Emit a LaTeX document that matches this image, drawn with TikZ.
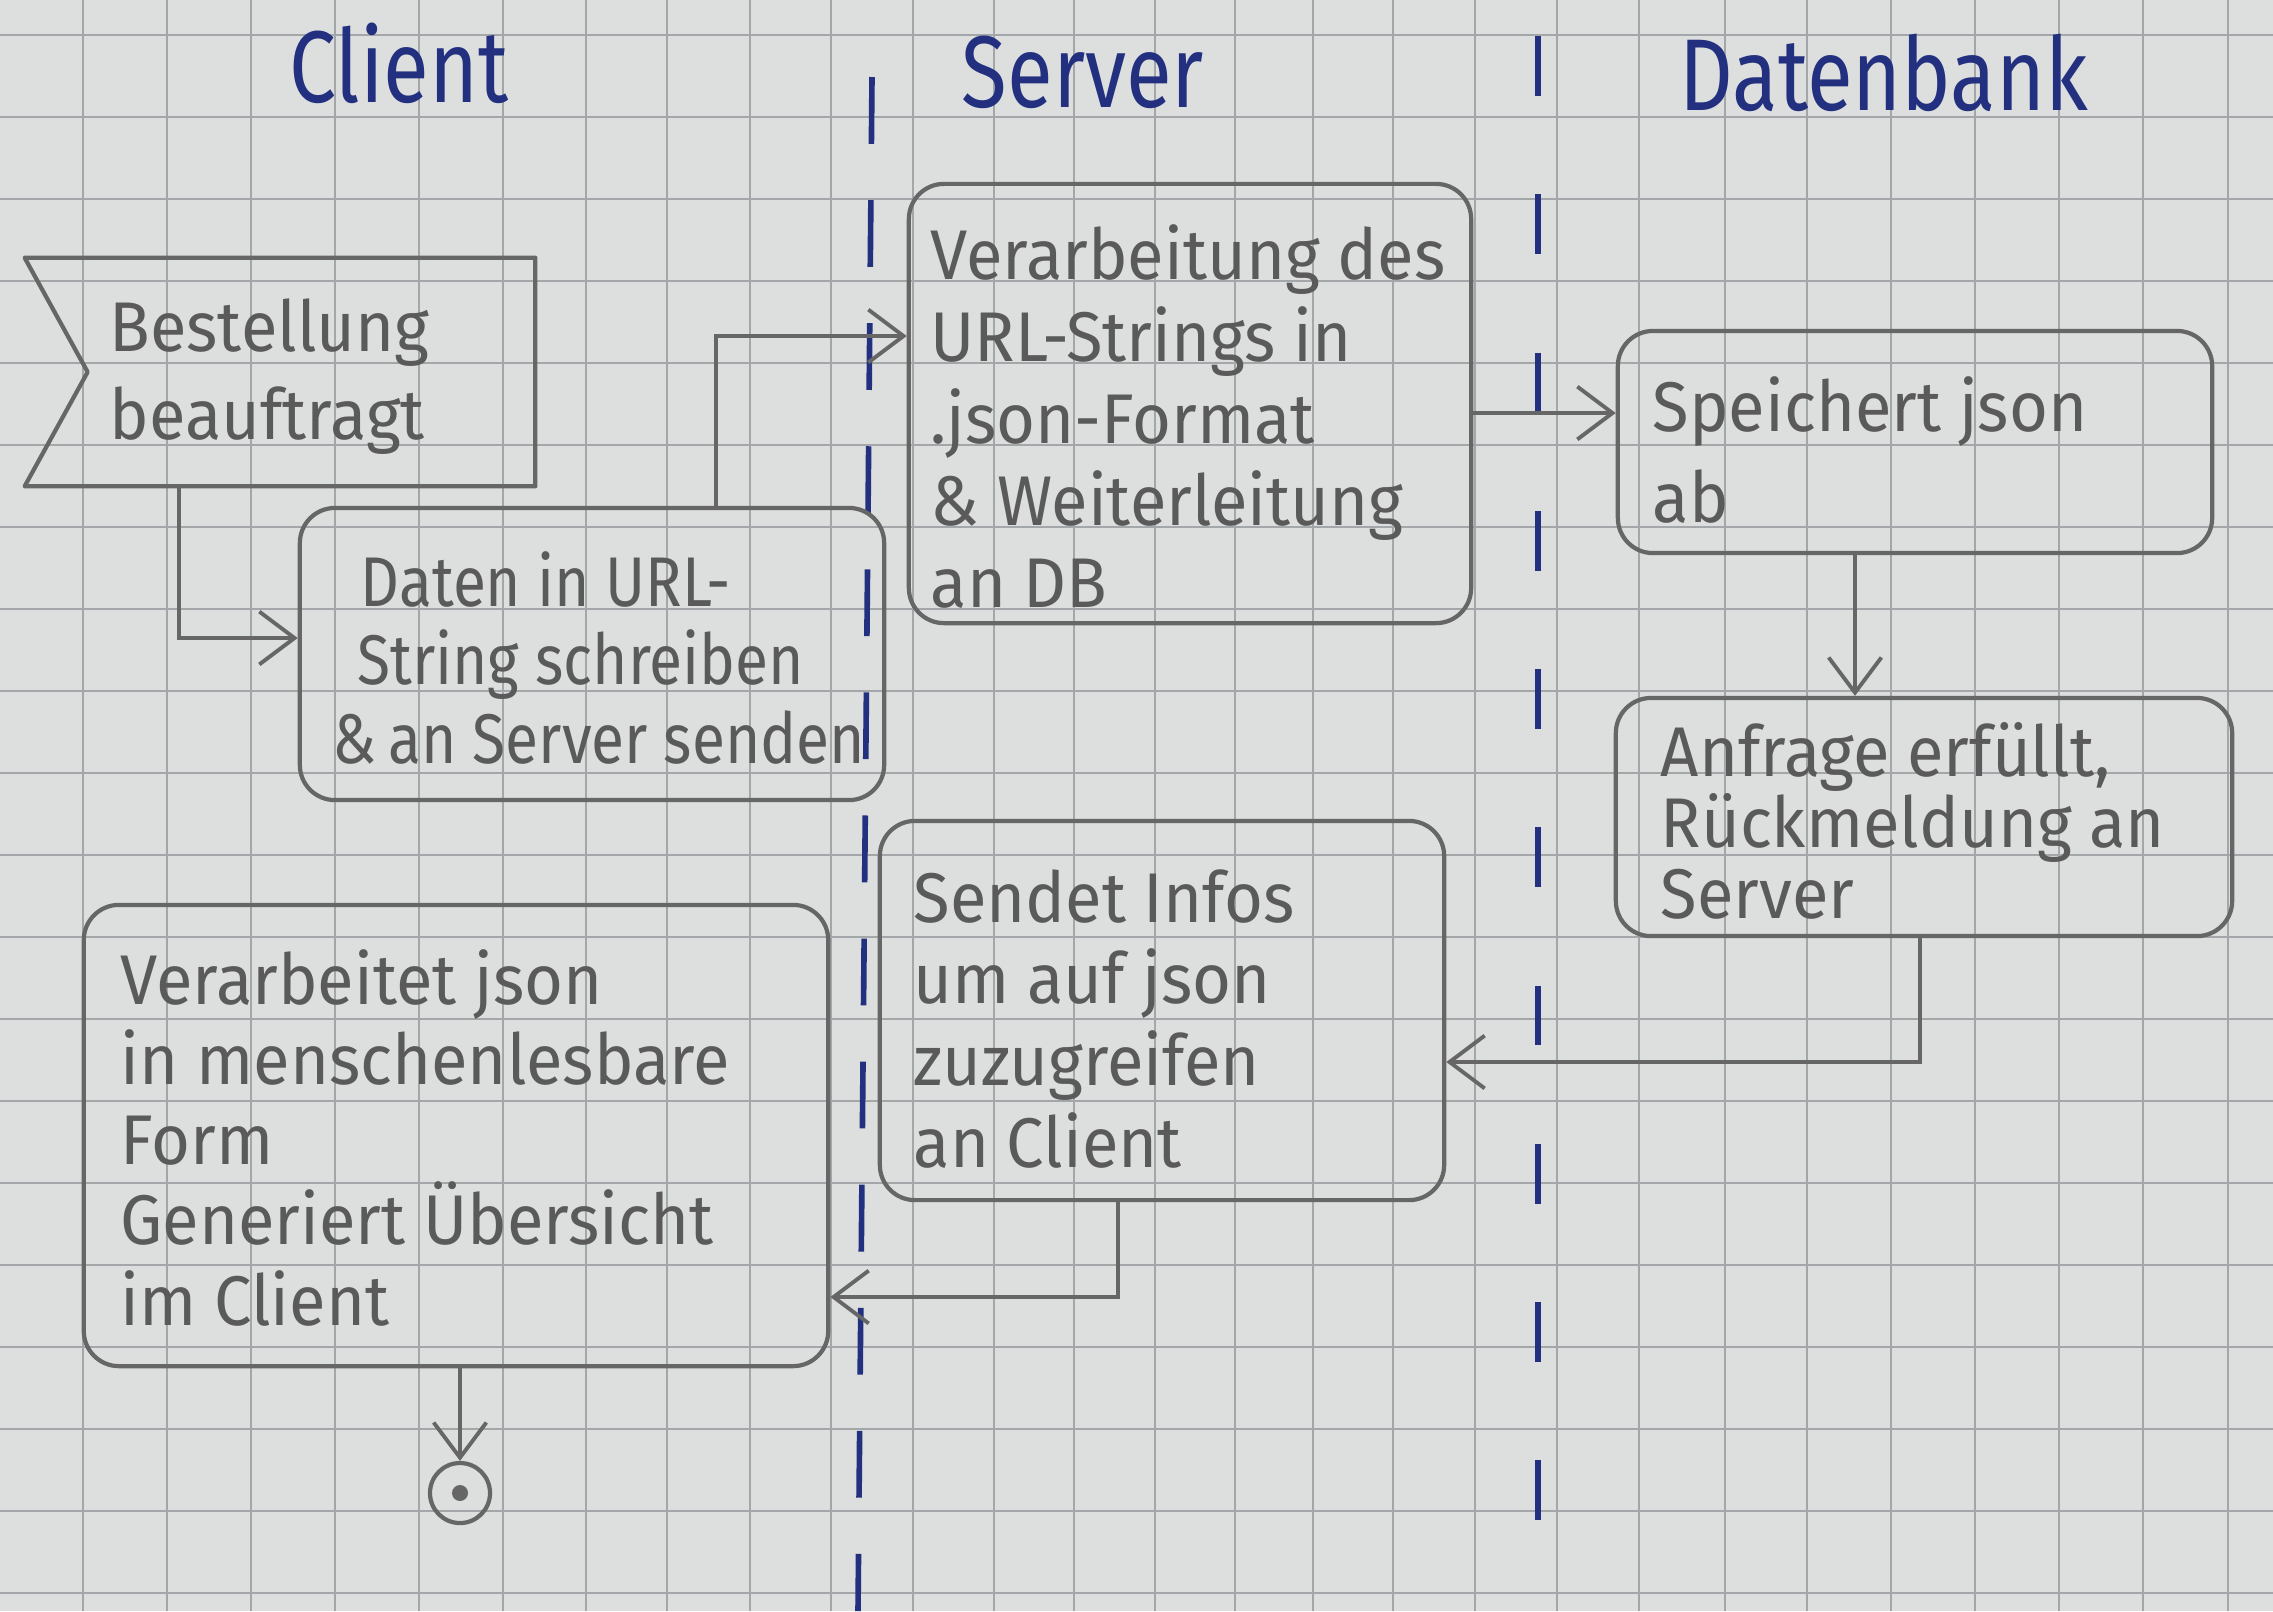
\documentclass[tikz,border=0pt]{standalone}
\usepackage{fontspec}
\newfontfamily\hand[FakeStretch=0.95]{Fira Sans}
\newfontfamily\handnarrow[FakeStretch=0.86]{Fira Sans}
\newfontfamily\headhand[FakeStretch=0.82]{Fira Sans}
\usetikzlibrary{arrows.meta,calc}
\definecolor{paper}{HTML}{DCDFDD}
\definecolor{gridline}{HTML}{A3A7A9}
\definecolor{pencil}{HTML}{666666}
\definecolor{lead}{HTML}{5A5A5A}
\definecolor{ink}{HTML}{22307F}
\begin{document}
\begin{tikzpicture}[x=0.01cm,y=-0.01cm,
  box/.style={draw=pencil, line width=1.2pt, rounded corners=10pt, inner sep=0pt},
  frame/.style={inner sep=0pt},
  % multi-line labels are placed by the baseline of their last line
  label/.style={anchor=base west, inner sep=0pt, align=left, text=lead,
    font=\hand\fontsize{20}{23}\selectfont},
  head/.style={anchor=base, inner sep=0pt, text=ink,
    font=\headhand\fontsize{29}{30}\selectfont},
  flow/.style={draw=pencil, line width=1.1pt,
    -{Straight Barb[length=10pt,width=15pt,line width=1.1pt]}},
  lane/.style={draw=ink, line width=1.6pt}]

% squared paper
\fill[paper] (0,0) rectangle (2273,1611);
\useasboundingbox (0,0) rectangle (2273,1611);
\foreach \x in {83,167,251,335,419,503,586,667,750,831,913,994,1074,1155,1235,1313,1393,1475,1557,1639,1725,1807,1891,1975,2059,2143,2228}
  \draw[gridline, line width=0.8pt] (\x,0) -- (\x,1611);
\foreach \y in {35,117,199,281,363,445,527,609,691,773,855,937,1019,1101,1183,1265,1347,1429,1511,1593}
  \draw[gridline, line width=0.8pt] (0,\y) -- (2273,\y);

% swimlane separators
\draw[lane, dash pattern=on 19pt off 16pt] (872,77) -- (858,1611);
\draw[lane, dash pattern=on 17pt off 28pt] (1538,36) -- (1538,1611);

% lane headings
\node[head] (hclient) at (399,102) {Client};
\node[head] (hserver) at (1083,107) {Server};
\node[head] (hdb) at (1884,110) {Datenbank};

% receive-signal action
\node[frame, minimum width=5.09cm, minimum height=2.27cm] (B1) at (280,372) {};
\draw[draw=pencil, line width=1.2pt, line join=round]
  (B1.north west) -- (B1.north east) -- (B1.south east) -- (B1.south west)
  -- ($(B1.west)+(63,0)$) -- cycle;
\node[label, font=\hand\fontsize{20}{24.8}\selectfont] (t1) at (109,439)
  {Bestellung\\beauftragt};

% actions
\node[box, minimum width=5.84cm, minimum height=2.92cm] (B2) at (592,654) {};
\node[label, font=\handnarrow\fontsize{20}{22.3}\selectfont] (t2) at (332,763)
  {\hspace*{8pt}Daten in URL-\\\hspace*{7pt}String schreiben\\\&\,an Server senden};

\node[box, minimum width=5.62cm, minimum height=4.39cm] (B3) at (1190,403.5) {};
\node[label, font=\hand\fontsize{20}{23.3}\selectfont] (t3) at (930,607)
  {Verarbeitung des\\URL-Strings in\\.json-Format\\\& Weiterleitung\\an DB};

\node[box, minimum width=5.94cm, minimum height=2.22cm] (B4) at (1915,442) {};
\node[label, font=\hand\fontsize{20}{25.6}\selectfont] (t4) at (1652,522)
  {Speichert json\\ab};

\node[box, minimum width=6.16cm, minimum height=2.38cm] (B5) at (1924,817) {};
\node[label, font=\hand\fontsize{20}{20.1}\selectfont] (t5) at (1660,918)
  {Anfrage erfüllt,\\Rückmeldung an\\Server};

\node[box, minimum width=5.64cm, minimum height=3.79cm] (B6) at (1162,1010.5) {};
\node[label, font=\hand\fontsize{20}{23.2}\selectfont] (t6) at (913,1167)
  {Sendet Infos\\um auf json\\zuzugreifen\\an Client};

\node[box, minimum width=7.44cm, minimum height=4.61cm] (B7) at (456,1135.5) {};
\node[label, font=\hand\fontsize{20}{22.8}\selectfont] (t7) at (120,1325)
  {Verarbeitet json\\in menschenlesbare\\Form\\Generiert Übersicht\\im Client};

% activity final
\node[circle, draw=pencil, line width=1.2pt, minimum size=0.6cm, inner sep=0pt] (fin) at (460,1493) {};
\node[circle, fill=pencil, minimum size=0.16cm, inner sep=0pt] (findot) at (fin) {};

% control flow
\coordinate (ka) at (179,638);
\coordinate (kb) at (716,336);
\coordinate (kc) at (0,413);
\coordinate (kd) at (1855,0);
\coordinate (ke) at (1920,1062);
\coordinate (kf) at (1118,1297);
\draw[flow] (B1.south -| ka) |- (B2.west |- ka);
\draw[flow] (B2.north -| kb) |- (B3.west |- kb);
\draw[flow] (B3.east |- kc) -- (B4.west |- kc);
\draw[flow] (B4.south -| kd) -- (B5.north -| kd);
\draw[flow] (B5.south -| ke) |- (B6.east |- ke);
\draw[flow] (B6.south -| kf) |- (B7.east |- kf);
\draw[flow] (B7.south -| fin) -- (fin.north);
\end{tikzpicture}
\end{document}
